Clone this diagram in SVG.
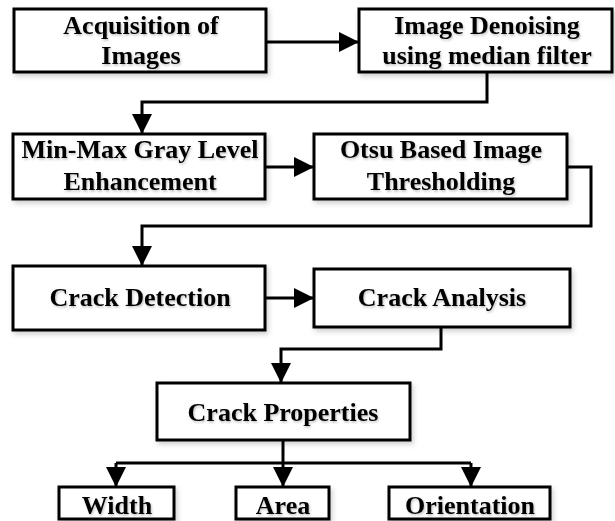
<svg xmlns="http://www.w3.org/2000/svg" width="615" height="521" viewBox="0 0 615 521">
  <defs>
    <marker id="arrow" viewBox="0 0 20 20" refX="20" refY="10" markerWidth="20" markerHeight="20" markerUnits="userSpaceOnUse" orient="auto">
      <path d="M0,0 L20,10 L0,20 Z" fill="#000"/>
    </marker>
    <filter id="shadow" x="-10%" y="-10%" width="130%" height="140%">
      <feDropShadow dx="2" dy="3" stdDeviation="2.5" flood-color="#000" flood-opacity="0.18"/>
    </filter>
    <filter id="tshadow" x="-5%" y="-20%" width="110%" height="150%">
      <feDropShadow dx="1" dy="1.5" stdDeviation="1.2" flood-color="#000" flood-opacity="0.25"/>
    </filter>
  </defs>
  <style>
    .box { fill: #fff; stroke: #000; stroke-width: 3; filter: url(#shadow); }
    .lbl { font-family: "Liberation Serif", "Times New Roman", serif; font-weight: bold; font-size: 26px; fill: #000; text-anchor: middle; filter: url(#tshadow); }
    .conn { fill: none; stroke: #000; stroke-width: 3; marker-end: url(#arrow); }
    .plain { fill: none; stroke: #000; stroke-width: 3; }
  </style>
  <rect width="615" height="521" fill="#fff"/>

  <g id="connectors">
    <path class="conn" d="M266,42 L359,42"/>
    <path class="conn" d="M487,72 L487,102 L142,102 L142,134"/>
    <path class="conn" d="M265,167 L314,167"/>
    <path class="conn" d="M567,167 L591,167 L591,226 L142,226 L142,266"/>
    <path class="conn" d="M265,298 L314,298"/>
    <path class="conn" d="M441,327 L441,349 L281,349 L281,383"/>
    <path class="plain" d="M283,440 L283,463"/>
    <path class="plain" d="M116,463 L471,463"/>
    <path class="conn" d="M116,463 L116,487"/>
    <path class="conn" d="M283,463 L283,487"/>
    <path class="conn" d="M471,463 L471,487"/>
  </g>

  <g id="acquisition">
    <rect class="box" x="14" y="9" width="252" height="63"/>
    <text class="lbl" x="141" y="34">Acquisition of</text>
    <text class="lbl" x="141" y="64">Images</text>
  </g>
  <g id="denoising">
    <rect class="box" x="359" y="9" width="253" height="63"/>
    <text class="lbl" x="487" y="34">Image Denoising</text>
    <text class="lbl" x="487" y="64">using median filter</text>
  </g>
  <g id="enhancement">
    <rect class="box" x="13" y="134" width="252" height="65"/>
    <text class="lbl" x="140" y="158">Min-Max Gray Level</text>
    <text class="lbl" x="140" y="190">Enhancement</text>
  </g>
  <g id="thresholding">
    <rect class="box" x="314" y="134" width="253" height="65"/>
    <text class="lbl" x="441" y="158">Otsu Based Image</text>
    <text class="lbl" x="441" y="190">Thresholding</text>
  </g>
  <g id="detection">
    <rect class="box" x="13" y="266" width="252" height="64"/>
    <text class="lbl" x="140" y="306">Crack Detection</text>
  </g>
  <g id="analysis">
    <rect class="box" x="314" y="269" width="256" height="58"/>
    <text class="lbl" x="442" y="306">Crack Analysis</text>
  </g>
  <g id="properties">
    <rect class="box" x="157" y="383" width="253" height="57"/>
    <text class="lbl" x="283" y="421">Crack Properties</text>
  </g>
  <g id="width">
    <rect class="box" x="59" y="487" width="115" height="32"/>
    <text class="lbl" x="117" y="514">Width</text>
  </g>
  <g id="area">
    <rect class="box" x="236" y="487" width="93" height="32"/>
    <text class="lbl" x="283" y="514">Area</text>
  </g>
  <g id="orientation">
    <rect class="box" x="389" y="487" width="161" height="32"/>
    <text class="lbl" x="470" y="514">Orientation</text>
  </g>
</svg>
